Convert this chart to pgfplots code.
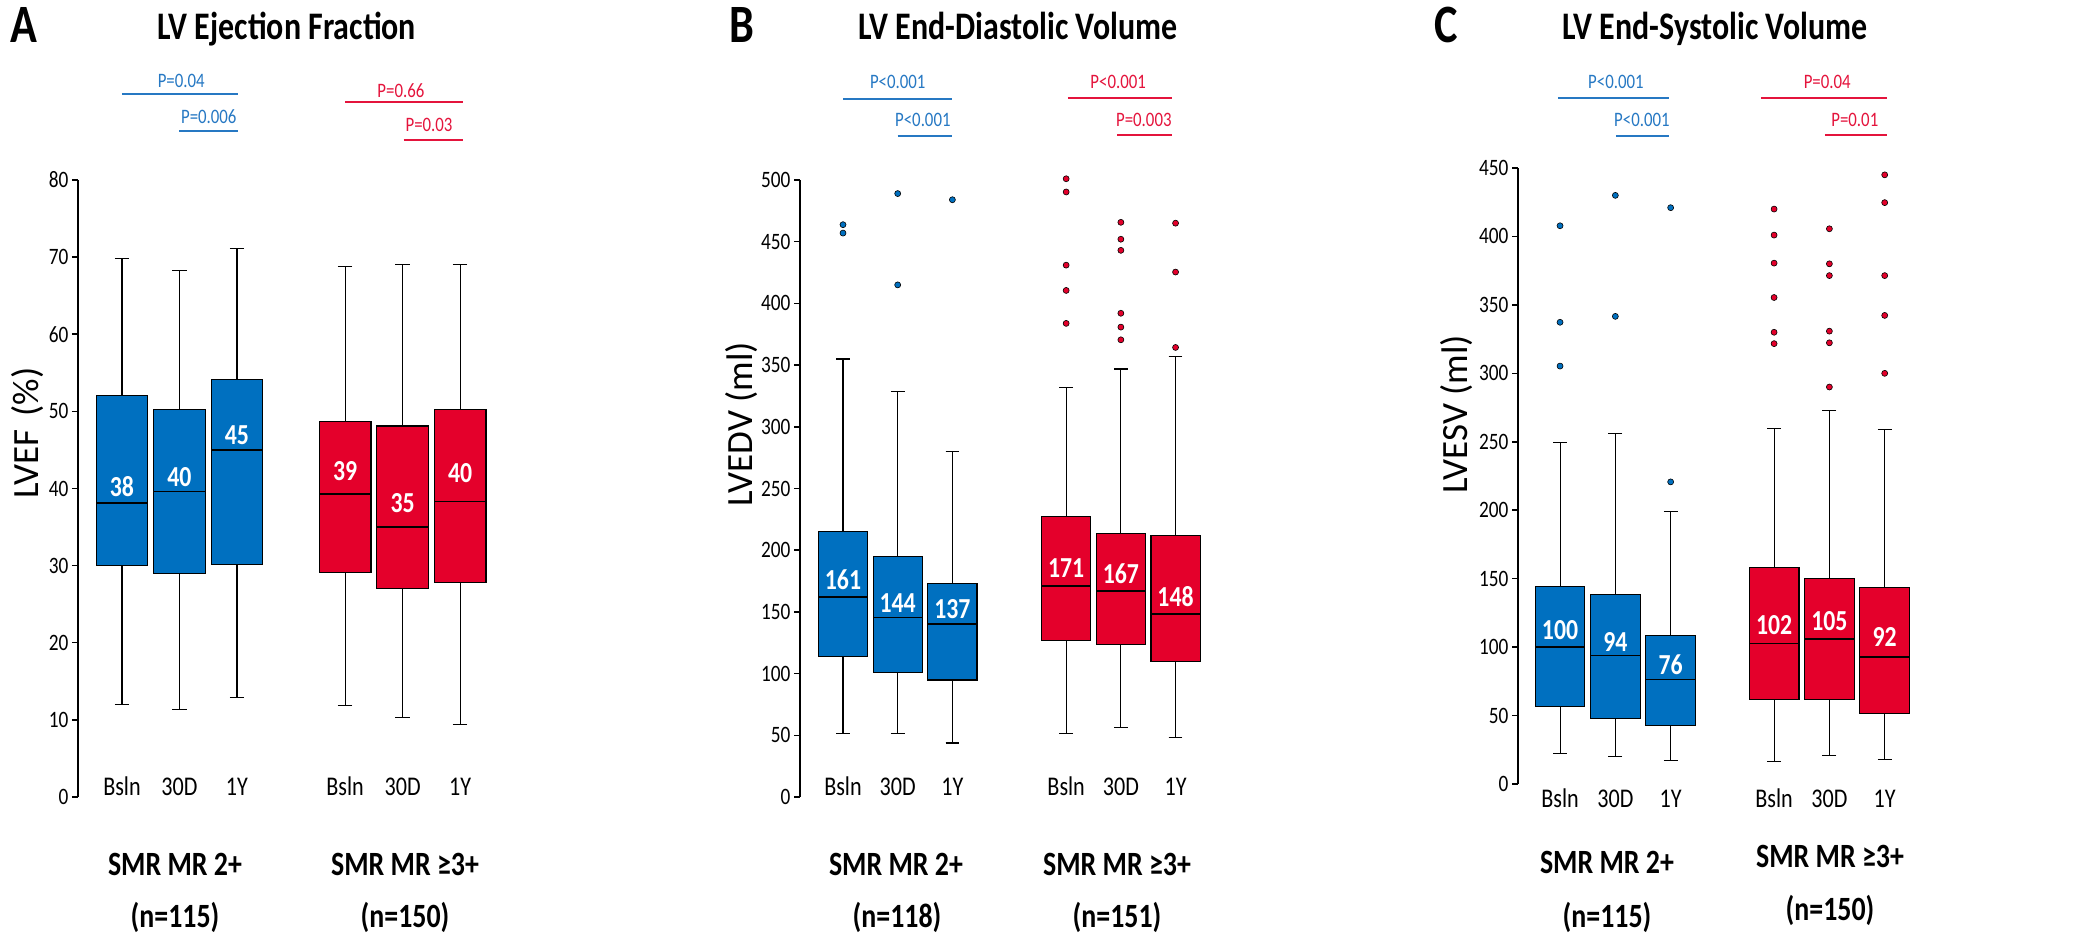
\documentclass[border=0pt]{standalone}
\usepackage{fontspec}
\setmainfont{Carlito}[FakeStretch=0.82]
\newfontfamily\plainfont{Carlito}
\usepackage{pgfplots}
\pgfplotsset{compat=1.18}
\usepgfplotslibrary{statistics}

\definecolor{boxblue}{RGB}{0,112,192}
\definecolor{boxred}{RGB}{228,0,43}
\definecolor{pblue}{RGB}{38,120,195}
\definecolor{pred}{RGB}{228,20,60}

\newcommand\fTick{\fontsize{23.5}{26}\selectfont}
\newcommand\fX{\fontsize{27}{30}\selectfont}
\newcommand\fTitle{\bfseries\fontsize{39}{44}\selectfont}
\newcommand\fLetter{\bfseries\fontsize{54}{60}\selectfont}
\newcommand\fP{\fontsize{20.5}{24}\selectfont}
\newcommand\fMed{\bfseries\fontsize{29}{32}\selectfont}
\newcommand\fGroup{\bfseries\fontsize{34}{38}\selectfont}
\newcommand\fYlab{\plainfont\fontsize{37}{40}\selectfont}

\tikzset{med/.style={font=\fMed, text=white, inner sep=0pt},
         ylab/.style={font=\fYlab, rotate=90, anchor=center, inner sep=0pt}}

\pgfplotsset{
  panel/.style={
    scale only axis, clip=false, enlargelimits=false,
    anchor=south west,
    axis lines=left, axis line style={-, line width=1.5pt, black},
    x axis line style={draw=none},
    xtick style={draw=none},
    ytick style={line width=1.5pt, black},
    tick align=outside, major tick length=6pt,
    tick label style={font=\fTick},
    xticklabel style={font=\fX, anchor=base},
    /pgf/number format/assume math mode=true,
  },
  bxb/.style={fill=boxblue, draw=black, line width=1.1pt},
  bxr/.style={fill=boxred, draw=black, line width=1.1pt},
  outb/.style={only marks, mark=*, mark size=3pt, mark options={fill=boxblue, draw=black, line width=0.6pt}},
  outr/.style={only marks, mark=*, mark size=3pt, mark options={fill=boxred, draw=black, line width=0.6pt}},
  boxplot/draw direction=y,
  boxplot/every median/.style={line width=1.6pt},
  boxplot/box extend=0.9,
  boxplot/whisker extend=0.25,
}

\begin{document}
\begin{tikzpicture}
\useasboundingbox (0,0) rectangle (2093pt,940pt);

% ---------------- A: LVEF ----------------
\begin{axis}[panel, at={(78pt,143pt)}, width=412pt, height=617pt,
    xmin=0.235, xmax=7.4, ymin=0, ymax=80,
    ytick={0,10,...,80},
    xtick={1,2,3,4.88,5.88,6.88}, xticklabels={Bsln,30D,1Y,Bsln,30D,1Y},
    xticklabel style={yshift=8pt}]
\addplot[bxb, boxplot prepared={draw position=1, median=38.1, upper quartile=52.1, lower quartile=30.0, upper whisker=69.8, lower whisker=12.0}] coordinates {};
\addplot[bxb, boxplot prepared={draw position=2, median=39.6, upper quartile=50.2, lower quartile=29.0, upper whisker=68.3, lower whisker=11.3}] coordinates {};
\addplot[bxb, boxplot prepared={draw position=3, median=45.0, upper quartile=54.1, lower quartile=30.1, upper whisker=71.1, lower whisker=12.9}] coordinates {};
\addplot[bxr, boxplot prepared={draw position=4.88, median=39.3, upper quartile=48.7, lower quartile=29.1, upper whisker=68.8, lower whisker=11.9}] coordinates {};
\addplot[bxr, boxplot prepared={draw position=5.88, median=35.0, upper quartile=48.1, lower quartile=27.0, upper whisker=69.1, lower whisker=10.3}] coordinates {};
\addplot[bxr, boxplot prepared={draw position=6.88, median=38.3, upper quartile=50.3, lower quartile=27.8, upper whisker=69.0, lower whisker=9.4}] coordinates {};
\node[med] at (axis cs:1,40.2) {38};
\node[med] at (axis cs:2,41.5) {40};
\node[med] at (axis cs:3,46.9) {45};
\node[med] at (axis cs:4.88,42.2) {39};
\node[med] at (axis cs:5.88,38.1) {35};
\node[med] at (axis cs:6.88,42.0) {40};
% p-values
\draw[pblue, line width=2pt] (axis cs:1,91.2) -- (axis cs:3.02,91.2);
\draw[pblue, line width=2pt] (axis cs:2,86.4) -- (axis cs:3.02,86.4);
\node[pblue, font=\fP] at (axis cs:2.03,92.9) {P=0.04};
\node[pblue, font=\fP] at (axis cs:2.51,88.2) {P=0.006};
\draw[pred, line width=2pt] (axis cs:4.88,90.1) -- (axis cs:6.93,90.1);
\draw[pred, line width=2pt] (axis cs:5.9,85.2) -- (axis cs:6.93,85.2);
\node[pred, font=\fP] at (axis cs:5.85,91.6) {P=0.66};
\node[pred, font=\fP] at (axis cs:6.34,87.2) {P=0.03};
\end{axis}

% ---------------- B: LVEDV ----------------
\begin{axis}[panel, at={(800pt,143pt)}, width=404pt, height=617pt,
    xmin=0.214, xmax=7.6, ymin=0, ymax=500,
    ytick={0,50,...,500},
    xtick={1,2,3,5.08,6.08,7.08}, xticklabels={Bsln,30D,1Y,Bsln,30D,1Y},
    xticklabel style={yshift=8pt}]
\addplot[bxb, boxplot prepared={draw position=1, median=162.1, upper quartile=215.4, lower quartile=114.2, upper whisker=354.9, lower whisker=51.7}] coordinates {};
\addplot[bxb, boxplot prepared={draw position=2, median=145.3, upper quartile=195.1, lower quartile=100.7, upper whisker=328.6, lower whisker=51.1}] coordinates {};
\addplot[bxb, boxplot prepared={draw position=3, median=140, upper quartile=173, lower quartile=94.8, upper whisker=279.7, lower whisker=43.8}] coordinates {};
\addplot[bxr, boxplot prepared={draw position=5.08, median=171, upper quartile=227, lower quartile=126.9, upper whisker=331.6, lower whisker=51.1}] coordinates {};
\addplot[bxr, boxplot prepared={draw position=6.08, median=167, upper quartile=213.5, lower quartile=123.7, upper whisker=346.8, lower whisker=56}] coordinates {};
\addplot[bxr, boxplot prepared={draw position=7.08, median=148.5, upper quartile=211.6, lower quartile=110, upper whisker=357.3, lower whisker=47.9}] coordinates {};
% outliers
\addplot[outb] coordinates {(1,463.8) (1,457) (2,489) (2,415) (3,484)};
\addplot[outr] coordinates {(5.08,501) (5.08,490.3) (5.08,431) (5.08,410.5) (5.08,383.8)
  (6.08,465.7) (6.08,452) (6.08,443) (6.08,392) (6.08,380.8) (6.08,370.5)
  (7.08,465) (7.08,425.4) (7.08,364.3)};
\node[med] at (axis cs:1,175.9) {161};
\node[med] at (axis cs:2,157) {144};
\node[med] at (axis cs:3,152) {137};
\node[med] at (axis cs:5.08,185.3) {171};
\node[med] at (axis cs:6.08,181.3) {167};
\node[med] at (axis cs:7.08,162.3) {148};
\draw[pblue, line width=2pt] (axis cs:1,565.6) -- (axis cs:3,565.6);
\draw[pblue, line width=2pt] (axis cs:2,535.7) -- (axis cs:3,535.7);
\node[pblue, font=\fP] at (axis cs:2,579.4) {P<0.001};
\node[pblue, font=\fP] at (axis cs:2.46,548.6) {P<0.001};
\draw[pred, line width=2pt] (axis cs:5.11,566.4) -- (axis cs:7.01,566.4);
\draw[pred, line width=2pt] (axis cs:6.01,536.5) -- (axis cs:7.01,536.5);
\node[pred, font=\fP] at (axis cs:6.03,579.4) {P<0.001};
\node[pred, font=\fP] at (axis cs:6.5,548.6) {P=0.003};
\end{axis}

% ---------------- C: LVESV ----------------
\begin{axis}[panel, at={(1518pt,156pt)}, width=396pt, height=616pt,
    xmin=0.24, xmax=7.4, ymin=0, ymax=450,
    ytick={0,50,...,450},
    xtick={1,2,3,4.87,5.87,6.87}, xticklabels={Bsln,30D,1Y,Bsln,30D,1Y},
    xticklabel style={yshift=-17pt}]
\addplot[bxb, boxplot prepared={draw position=1, median=100, upper quartile=144.5, lower quartile=56.3, upper whisker=249.3, lower whisker=22.3}] coordinates {};
\addplot[bxb, boxplot prepared={draw position=2, median=94, upper quartile=138.4, lower quartile=48, upper whisker=256, lower whisker=20.4}] coordinates {};
\addplot[bxb, boxplot prepared={draw position=3, median=76.2, upper quartile=108.8, lower quartile=42.5, upper whisker=198.9, lower whisker=17}] coordinates {};
\addplot[bxr, boxplot prepared={draw position=4.87, median=102.5, upper quartile=158.3, lower quartile=61.9, upper whisker=260, lower whisker=16.3}] coordinates {};
\addplot[bxr, boxplot prepared={draw position=5.87, median=105.9, upper quartile=150.3, lower quartile=61.7, upper whisker=273, lower whisker=20.6}] coordinates {};
\addplot[bxr, boxplot prepared={draw position=6.87, median=92.8, upper quartile=143.5, lower quartile=51.7, upper whisker=259, lower whisker=18.2}] coordinates {};
% outliers
\addplot[outb] coordinates {(1,407.8) (1,337.3) (1,305.3) (2,430) (2,341.6) (3,421) (3,220.7)};
\addplot[outr] coordinates {(4.87,420) (4.87,401) (4.87,380.5) (4.87,355.4) (4.87,330) (4.87,321.7)
  (5.87,405.6) (5.87,380) (5.87,371.4) (5.87,330.8) (5.87,322.3) (5.87,290)
  (6.87,445) (6.87,424.7) (6.87,371.4) (6.87,342.3) (6.87,300)};
\node[med] at (axis cs:1,112.5) {100};
\node[med] at (axis cs:2,104) {94};
\node[med] at (axis cs:3,87) {76};
\node[med] at (axis cs:4.87,116) {102};
\node[med] at (axis cs:5.87,119.3) {105};
\node[med] at (axis cs:6.87,107.6) {92};
\draw[pblue, line width=2pt] (axis cs:0.96,501) -- (axis cs:2.97,501);
\draw[pblue, line width=2pt] (axis cs:2.01,473.3) -- (axis cs:2.97,473.3);
\node[pblue, font=\fP] at (axis cs:2.01,512.8) {P<0.001};
\node[pblue, font=\fP] at (axis cs:2.48,485) {P<0.001};
\draw[pred, line width=2pt] (axis cs:4.63,501) -- (axis cs:6.91,501);
\draw[pred, line width=2pt] (axis cs:5.79,474) -- (axis cs:6.91,474);
\node[pred, font=\fP] at (axis cs:5.83,512.8) {P=0.04};
\node[pred, font=\fP] at (axis cs:6.33,485) {P=0.01};
\end{axis}

% ---------------- y labels ----------------
\node[ylab] at (28pt,507pt) {LVEF\hspace{0.35em}(\%)};
\node[ylab] at (742pt,516pt) {LVEDV (ml)};
\node[ylab] at (1457pt,526pt) {LVESV (ml)};

% ---------------- titles, letters, group labels ----------------
\node[font=\fLetter, anchor=base] at (23.5pt,897pt) {A};
\node[font=\fLetter, anchor=base] at (742pt,897pt) {B};
\node[font=\fLetter, anchor=base] at (1446pt,897pt) {C};
\node[font=\fTitle, anchor=base] at (287pt,900pt) {LV Ejection Fraction};
\node[font=\fTitle, anchor=base] at (1018pt,900pt) {LV End-Diastolic Volume};
\node[font=\fTitle, anchor=base] at (1715pt,900pt) {LV End-Systolic Volume};

\node[font=\fGroup, anchor=base] at (175pt,65pt) {SMR MR 2+};
\node[font=\fGroup, anchor=base] at (175pt,13pt) {(n=115)};
\node[font=\fGroup, anchor=base] at (405pt,65pt) {SMR MR ≥3+};
\node[font=\fGroup, anchor=base] at (405pt,13pt) {(n=150)};

\node[font=\fGroup, anchor=base] at (896pt,65pt) {SMR MR 2+};
\node[font=\fGroup, anchor=base] at (897pt,13pt) {(n=118)};
\node[font=\fGroup, anchor=base] at (1117pt,65pt) {SMR MR ≥3+};
\node[font=\fGroup, anchor=base] at (1117pt,13pt) {(n=151)};

\node[font=\fGroup, anchor=base] at (1607pt,67pt) {SMR MR 2+};
\node[font=\fGroup, anchor=base] at (1607pt,13pt) {(n=115)};
\node[font=\fGroup, anchor=base] at (1830pt,73pt) {SMR MR ≥3+};
\node[font=\fGroup, anchor=base] at (1830pt,20pt) {(n=150)};
\end{tikzpicture}
\end{document}
